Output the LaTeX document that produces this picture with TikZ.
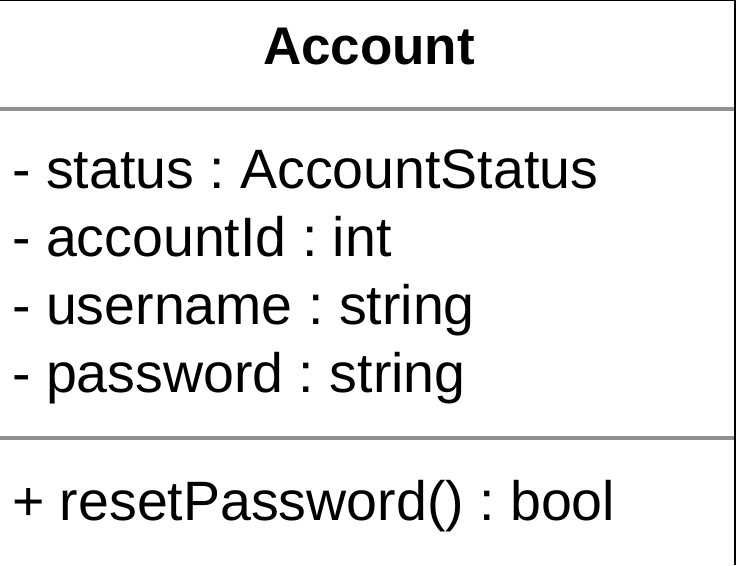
\documentclass[tikz,border=0pt]{standalone}
\usepackage{fontspec}
\setmainfont{Liberation Sans}
\definecolor{sepgray}{HTML}{909090}
\begin{document}
\frenchspacing
\begin{tikzpicture}[x=1pt,y=1pt,
  member/.style={anchor=base west,inner sep=0pt,font=\fontsize{55.5}{60}\selectfont},
  titletext/.style={anchor=base,inner sep=0pt,font=\fontsize{53}{60}\selectfont\bfseries},
  border/.style={draw=black,line width=2pt},
  separator/.style={draw=sepgray,line width=4pt}]
\useasboundingbox (0,0) rectangle (736,565);
\fill[white] (0,0) rectangle (736,565);
\coordinate (tl) at (0,565);
\coordinate (tr) at (734.5,565);
\coordinate (br) at (734.5,0);
\draw[border] (tl) -- (tr) -- (br);
\coordinate (s1l) at (0,456);
\coordinate (s1r) at (733.5,456);
\coordinate (s2l) at (0,127);
\coordinate (s2r) at (733.5,127);
\draw[separator] (s1l) -- (s1r);
\draw[separator] (s2l) -- (s2r);
\node[titletext] (title) at (369,500) {Account};
\node[member] (a1) at (12,376) {- status : AccountStatus};
\node[member] (a2) at (12,308) {- accountId : int};
\node[member] (a3) at (12,240) {- username : string};
\node[member] (a4) at (12,172) {- password : string};
\node[member] (m1) at (12,45) {+ resetPassword() : bool};
\end{tikzpicture}
\end{document}
